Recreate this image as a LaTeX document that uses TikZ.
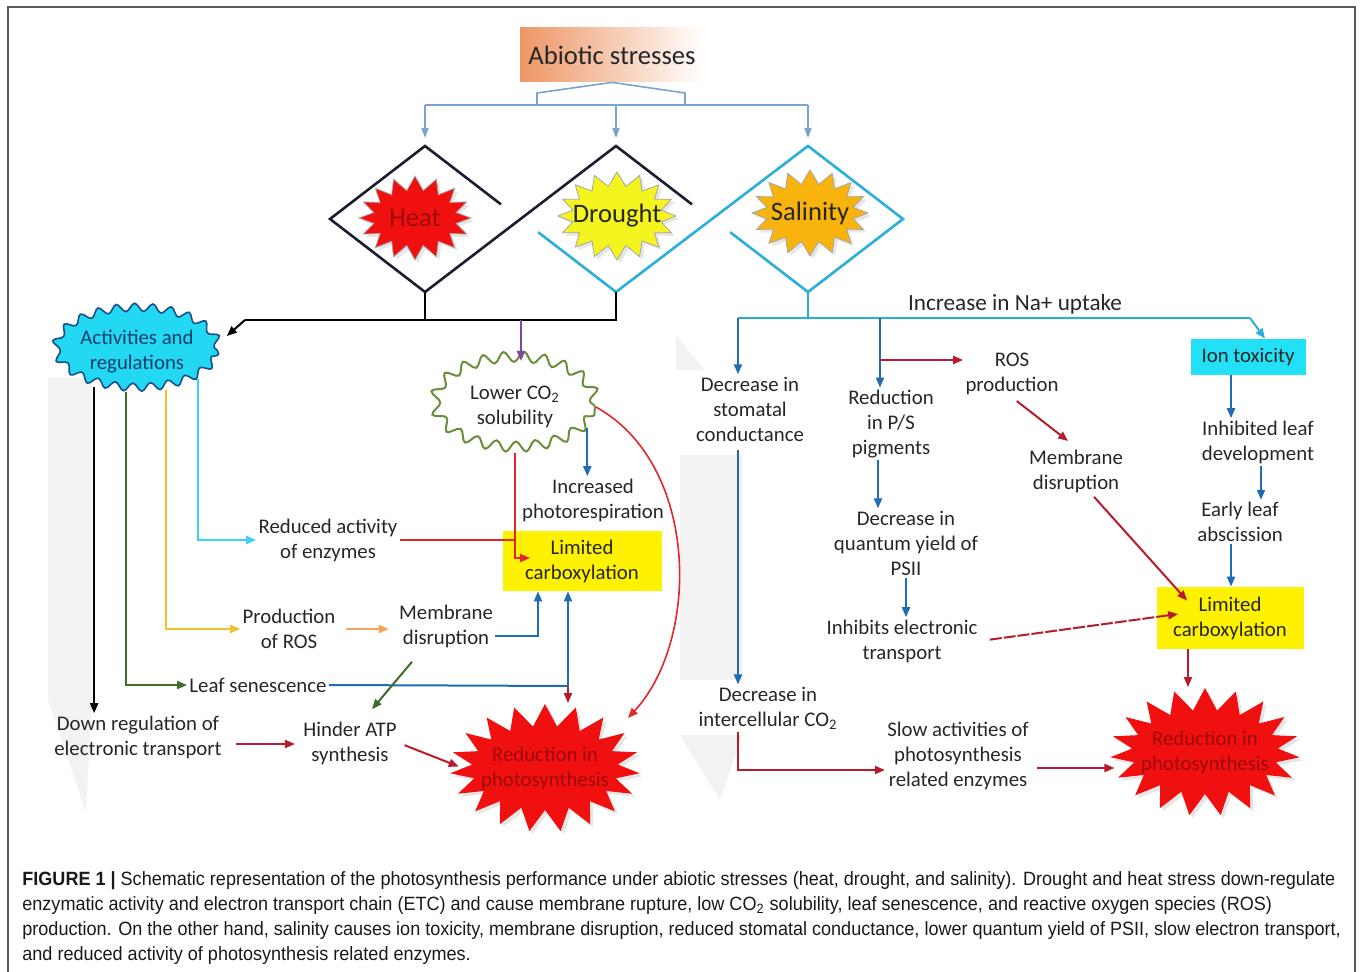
\documentclass[tikz,border=0pt]{standalone}
\usepackage{fontspec}
\setmainfont{Carlito}
\newfontfamily\capfont[FakeStretch=0.94]{Liberation Sans}
\usetikzlibrary{shapes.geometric,shapes.symbols,arrows.meta,calc,shadows,decorations.pathmorphing}

\definecolor{topblue}{HTML}{7BA3CF}
\definecolor{abior}{HTML}{EE9665}
\definecolor{diadark}{HTML}{1C1C2E}
\definecolor{diacyan}{HTML}{2AAFDA}
\definecolor{arblue}{HTML}{1F6CB0}
\definecolor{dred}{HTML}{B71C2C}
\definecolor{bred}{HTML}{E3262B}
\definecolor{ylw}{HTML}{F2C12E}
\definecolor{org}{HTML}{F5A45B}
\definecolor{grn}{HTML}{3F6B2B}
\definecolor{cya}{HTML}{3CD2F0}
\definecolor{pur}{HTML}{7B4BA2}
\definecolor{actcyan}{HTML}{22D8F2}
\definecolor{actedge}{HTML}{1B4F8A}
\definecolor{lowedge}{HTML}{6B8E3A}
\definecolor{limyel}{HTML}{FFF200}
\definecolor{iontox}{HTML}{22E0F5}
\definecolor{heatred}{HTML}{F01010}
\definecolor{drtyel}{HTML}{F4F41E}
\definecolor{salor}{HTML}{F8B30C}
\definecolor{redtxt}{HTML}{9E0A0A}

\begin{document}
\begin{tikzpicture}[x=0.5pt,y=-0.5pt]
\tikzstyle{every node}=[align=center,inner sep=1pt,text=black!85,font=\fontsize{10.4}{12.5}\selectfont]
\tikzstyle{titlebox}=[rectangle,minimum width=92pt,minimum height=27pt,left color=abior,middle color=abior!85,right color=white,font=\fontsize{13.3}{16}\selectfont]
\tikzstyle{topln}=[draw=topblue,line width=0.8pt]
\tikzstyle{topar}=[topln,-{Triangle[length=5pt,width=3.5pt]},shorten >=4pt]
\tikzstyle{dia}=[line width=1.3pt]
\tikzstyle{burst}=[starburst,starburst points=16,starburst point height=7pt,random starburst=0,draw=gray!70,line width=0.4pt,inner sep=0pt,drop shadow={opacity=0.2,shadow xshift=1.5pt,shadow yshift=-1.5pt}]
\tikzstyle{bursttxt}=[font=\fontsize{13.3}{16}\selectfont]
\tikzstyle{redstar}=[burst,fill=heatred,draw=none,starburst points=19,starburst point height=11pt,minimum width=95pt,minimum height=64pt]
\tikzstyle{redlbl}=[text=redtxt]
\tikzstyle{wavy}=[ellipse,inner sep=0pt,decorate,decoration={snake,segment length=9pt,amplitude=2pt}]
\tikzstyle{limbox}=[rectangle,fill=limyel,minimum width=79.5pt,minimum height=30pt]
\tikzstyle{ln}=[line width=1pt]
\tikzstyle{ar}=[ln,-{Triangle[length=5pt,width=4pt]}]
\tikzstyle{blkln}=[ln,draw=black]
\tikzstyle{blkar}=[ar,draw=black]
\tikzstyle{cynln}=[ln,draw=diacyan]
\tikzstyle{cynar}=[ar,draw=diacyan]
\tikzstyle{bluln}=[ln,draw=arblue]
\tikzstyle{bluar}=[ar,draw=arblue]
\tikzstyle{dredar}=[ar,draw=dred]
\tikzstyle{bredln}=[ln,draw=bred]
\tikzstyle{bredar}=[ar,draw=bred]
\tikzstyle{ylwar}=[ar,draw=ylw]
\tikzstyle{orgar}=[ar,draw=org]
\tikzstyle{grnar}=[ar,draw=grn]
\tikzstyle{cyaar}=[ar,draw=cya]
\tikzstyle{purar}=[ar,draw=pur]
\tikzstyle{captxt}=[anchor=base west,inner sep=0pt,text=black!90,font=\capfont\fontsize{9.6}{12}\selectfont]
\useasboundingbox (0,0) rectangle (1360,972);
% faint grey backdrop
\fill[black!5] (48,378) -- (92,378) -- (92,700) -- (86,812) -- (48,700) -- cycle;
\fill[black!5] (680,455) -- (742,455) -- (742,680) -- (680,680) -- cycle;
\fill[black!5] (680,735) -- (742,735) -- (720,800) -- cycle;
\fill[black!5] (676,335) -- (704,370) -- (676,370) -- cycle;
\draw[gray!70!black,line width=1pt] (8,972) -- (8,7) -- (1355,7) -- (1355,972);

% stresses
\node[titlebox] (abio) at (612,55) {Abiotic stresses};
\coordinate (br1) at (537,105);
\coordinate (br2) at (685,105);
\draw[topln] (br1) -- (537,93) -- (abio.south) -- (685,93) -- (br2);
\draw[topln] (425,105) -- (808,105);

\coordinate (hT) at (425,146);
\coordinate (hL) at (330,219);
\coordinate (hB) at (425,292);
\coordinate (dT) at (616,146);
\coordinate (dB) at (616,292);
\coordinate (sT) at (808,146);
\coordinate (sR) at (903,219);
\coordinate (sB) at (808,292);
\draw[topar] (hT |- br1) -- (hT);
\draw[topar] (dT |- br1) -- (dT);
\draw[topar] (sT |- br1) -- (sT);
\draw[dia,draw=diadark] ($(hT)!0.8!(520,219)$) -- (hT) -- (hL) -- (hB) -- (dT) -- ($(dT)!0.8!(711,219)$);
\draw[dia,draw=diacyan] ($(dB)!0.82!(521,219)$) -- (dB) -- (sT) -- (sR) -- (sB) -- ($(sB)!0.82!(713,219)$);

\node[burst,fill=heatred,minimum width=56pt,minimum height=42pt,label={[bursttxt,text=redtxt]center:Heat}] (heat) at (415,218) {};
\node[burst,fill=drtyel,minimum width=59pt,minimum height=44pt,label={[bursttxt]center:Drought}] (drought) at (617,216) {};
\node[burst,fill=salor,minimum width=58pt,minimum height=43pt,label={[bursttxt]center:Salinity}] (salinity) at (810,213) {};

% heat and drought
\coordinate (blk) at (245,320);
\coordinate (pu) at (521,320);
\node[wavy,fill=actcyan,draw=actedge,line width=0.8pt,minimum width=81pt,minimum height=40pt,text=actedge!80!black] (act) at (137,352) {Activities and\\regulations};
\node[wavy,fill=white,draw=lowedge,line width=1pt,minimum width=80pt,minimum height=45pt,decoration={snake,segment length=10pt,amplitude=2.6pt}] (low) at (515,407) {Lower CO\textsubscript{2}\\solubility};
\draw[blkln] (hB) -- (hB |- blk);
\draw[blkln] (dB) -- (dB |- blk) -- (blk);
\draw[blkar] (blk) -- ($(act.east)+(8,-16)$);
\draw[purar] (pu) -- (pu |- low.north);

\node (redact) at (328,540) {Reduced activity\\of enzymes};
\node (ros) at (289,629) {Production\\of ROS};
\node (memL) at (446,626) {Membrane\\disruption};
\node (leaf) at (258,685) {Leaf senescence};
\node (dreg) at (138,737) {Down regulation of\\electronic transport};
\node (atp) at (350,743) {Hinder ATP\\synthesis};
\node (photo) at (593,500) {Increased\\photorespiration};
\node[limbox] (lim) at (582,561) {Limited\\carboxylation};
\node[redstar,label={[redlbl]center:{Reduction in\\photosynthesis}}] (redl) at (545,768) {};

\draw[blkar] (act.219) -- (act.219 |- dreg.north);
\draw[grnar] (act.255) |- (leaf.west);
\draw[ylwar] (act.307) |- (ros.west);
\draw[cyaar] (act.336) |- (redact.west);
\draw[orgar,shorten <=4pt,shorten >=4pt] (ros.east) -- (ros.east -| memL.west);
\draw[bluar] ($(memL.east)+(0,10)$) -| (lim.south -| 538,0);
\coordinate (j1) at (568,686);
\draw[bluln] (leaf.east) -- (j1);
\draw[bluar] (j1) -- (j1 |- lim.south);
\draw[dredar] (j1) -- (j1 |- redl.north);
\draw[grnar] ($(memL.south)+(-34,12)$) -- ($(atp.north)+(22,-10)$);
\draw[dredar,shorten <=6pt,shorten >=3pt] ($(dreg.east)+(0,7)$) -- ($(dreg.east -| atp.west)+(0,7)$);
\draw[dredar,shorten <=3pt,shorten >=2pt] (atp.east) -- (redl.west);
\draw[bredar] (low.south) |- ($(lim.west)+(28,-3)$);
\draw[bredln] (redact.east) -- (redact.east -| low.south);
\draw[bluar] (low.344) -- (low.344 |- photo.north);
\draw[bredar,line width=0.8pt] (low.east) .. controls (700,465) and (700,640) .. ($(redl.center)+(83,-50)$);

% salinity
\coordinate (naL) at (738,318);
\coordinate (naP) at (880,318);
\coordinate (naR) at (1250,318);
\coordinate (rb) at (880,360);
\node[font=\fontsize{11.6}{14}\selectfont] (na) at (1015,304) {Increase in Na+ uptake};
\node (stom) at (750,409) {Decrease in\\stomatal\\conductance};
\node (inter) at (768,708) {Decrease in\\intercellular CO\textsubscript{2}};
\node (slow) at (958,756) {Slow activities of\\photosynthesis\\related enzymes};
\node[redstar,label={[redlbl]center:{Reduction in\\photosynthesis}}] (redr) at (1205,752) {};
\node (pig) at (891,424) {Reduction\\in P/S\\pigments};
\node (qy) at (906,543) {Decrease in\\quantum yield of\\PSII};
\node (inh) at (902,641) {Inhibits electronic\\transport};
\node (rosR) at (1012,374) {ROS\\production};
\node (memR) at (1076,471) {Membrane\\disruption};
\node[rectangle,fill=iontox,minimum width=57.5pt,minimum height=18pt] (ion) at (1248,357) {Ion toxicity};
\node (dev) at (1258,442) {Inhibited leaf\\development};
\node (abs) at (1240,522) {Early leaf\\abscission};
\node[limbox,minimum width=73.5pt,minimum height=31pt] (limR) at (1230,618) {Limited\\carboxylation};

\draw[cynln] (sB) -- (sB |- naL);
\draw[cynln] (naL) -- (naR);
\draw[cynar] (naR) -- ($(ion.north)+(17,0)$);
\draw[bluar] (naL) -- (stom.north -| naL);
\draw[bluar,shorten <=3pt] (stom.south -| naL) -- (inter.north -| naL);
\draw[dredar] (inter.south -| naL) |- ($(slow.west)+(0,14)$);
\draw[dredar,shorten <=3pt,shorten >=4pt] ($(slow.east)+(0,12)$) -- ($(slow.east -| redr.west)+(0,12)$);
\draw[bluar] (naP) -- (pig.north -| naP);
\draw[dredar] (rb) -- (rb -| rosR.west);
\draw[bluar] (pig.south -| 878,0) -- (qy.north -| 878,0);
\draw[bluar] (qy.south) -- (qy.south |- inh.north);
\draw[dredar,dash pattern=on 6pt off 1pt,shorten <=5pt] (inh.east) -- ($(limR.west)+(22,-4)$);
\draw[dredar,shorten <=3pt,shorten >=5pt] (rosR.south) -- (memR.north);
\draw[dredar] ($(memR.south)+(18,2)$) -- ($(limR.north west)+(31,14)$);
\draw[bluar] (ion.south -| 1231,0) -- (dev.north -| 1231,0);
\draw[bluar] (dev.south -| 1261,0) -- (abs.north -| 1261,0);
\draw[bluar] (abs.south -| 1231,0) -- (limR.north -| 1231,0);
\draw[dredar] (limR.south -| 1188,0) -- (redr.north -| 1188,0);

% caption
\node[captxt] (cap1) at (22,885) {\textbf{FIGURE 1 |} Schematic representation of the photosynthesis performance under abiotic stresses (heat, drought, and salinity). Drought and heat stress down-regulate};
\node[captxt] (cap2) at (22,910) {enzymatic activity and electron transport chain (ETC) and cause membrane rupture, low CO\textsubscript{2} solubility, leaf senescence, and reactive oxygen species (ROS)};
\node[captxt] (cap3) at (22,935) {production. On the other hand, salinity causes ion toxicity, membrane disruption, reduced stomatal conductance, lower quantum yield of PSII, slow electron transport,};
\node[captxt] (cap4) at (22,960) {and reduced activity of photosynthesis related enzymes.};
\end{tikzpicture}
\end{document}
